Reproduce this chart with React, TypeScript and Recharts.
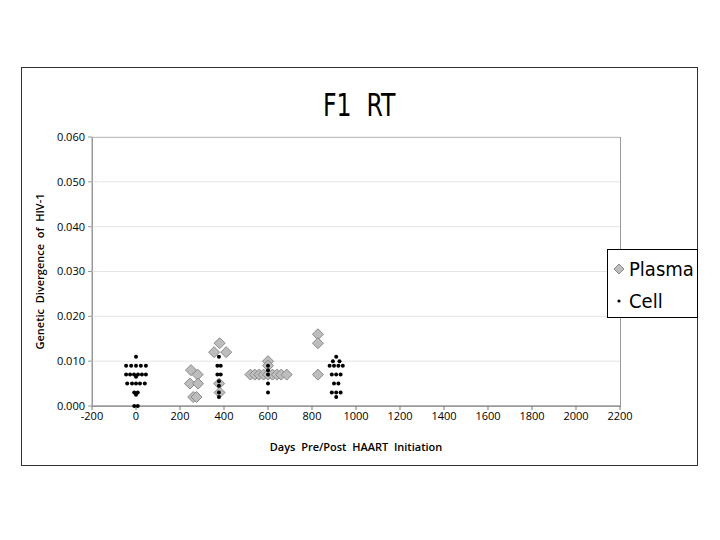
import React from 'react';
import {
  ScatterChart,
  Scatter,
  XAxis,
  YAxis,
  CartesianGrid,
  Label,
} from 'recharts';

// plasma samples (days, divergence)
const plasmaDays = [250, 280, 245, 282, 260, 275, 380, 355, 410, 378, 380, 520, 540, 560, 580, 600, 620, 640, 660, 685, 600, 600, 827, 827, 827];
const plasmaDiv = [0.008, 0.007, 0.005, 0.005, 0.002, 0.002, 0.014, 0.012, 0.012, 0.005, 0.003, 0.007, 0.007, 0.007, 0.007, 0.007, 0.007, 0.007, 0.007, 0.007, 0.010, 0.009, 0.016, 0.014, 0.007];

// cell samples (days, divergence)
const cellDays = [
  0, -45, -22, 0, 22, 45, -45, -27, -9, 9, 27, 45, 0, -40, -18, 0, 18, 40, -8, 8, 0, -8, 8,
  370, 385, 370, 385, 377, 377, 377, 377, 377,
  600, 600, 600, 600, 600,
  910, 895, 925, 880, 900, 920, 940, 890, 910, 930, 900, 920, 890, 910, 930, 910,
];
const cellDiv = [
  0.011, 0.009, 0.009, 0.009, 0.009, 0.009, 0.007, 0.007, 0.007, 0.007, 0.007, 0.007, 0.0065, 0.005, 0.005, 0.005, 0.005, 0.005, 0.003, 0.003, 0.0025, 0.0, 0.0,
  0.009, 0.009, 0.007, 0.007, 0.011, 0.0055, 0.0045, 0.003, 0.002,
  0.009, 0.008, 0.007, 0.005, 0.003,
  0.011, 0.010, 0.010, 0.009, 0.009, 0.009, 0.009, 0.007, 0.007, 0.007, 0.005, 0.005, 0.003, 0.003, 0.003, 0.002,
];

const xTicks = [-200, 0, 200, 400, 600, 800, 1000, 1200, 1400, 1600, 1800, 2000, 2200];
const yTicks = [0, 0.01, 0.02, 0.03, 0.04, 0.05, 0.06];

const plasma = plasmaDays.map((d, i) => ({ x: d, y: plasmaDiv[i] }));
const cell = cellDays.map((d, i) => ({ x: d, y: cellDiv[i] }));

const tickFont = { fontFamily: 'Open Sans, sans-serif', fontSize: 11, fill: '#000' };
const condensed = { fontFamily: 'DejaVu Sans, sans-serif', fontStretch: 'condensed' as const };
const sp = '\u00a0\u00a0';

const Diamond = (props: any) => {
  const { cx, cy } = props;
  const r = 5.5;
  return (
    <polygon
      points={`${cx},${cy - r} ${cx + r},${cy} ${cx},${cy + r} ${cx - r},${cy}`}
      fill="#bdbdbd"
      stroke="#8a8a8a"
      strokeWidth={1}
    />
  );
};

const Dot = (props: any) => {
  const { cx, cy } = props;
  return <circle cx={cx} cy={cy} r={2} fill="#000" />;
};

const LegendBox = () => (
  <div
    style={{
      position: 'absolute',
      left: 607,
      top: 249,
      width: 91,
      height: 69,
      border: '1px solid #000',
      background: '#fff',
      boxSizing: 'border-box',
      ...condensed,
      fontSize: 20,
      color: '#000',
      paddingLeft: 4,
    }}
  >
    <div style={{ display: 'flex', alignItems: 'center', height: 34, marginTop: 2 }}>
      <svg width={14} height={14}>
        <polygon points="7,2 12,7 7,12 2,7" fill="#bdbdbd" stroke="#8a8a8a" />
      </svg>
      <span style={{ marginLeft: 3 }}>Plasma</span>
    </div>
    <div style={{ display: 'flex', alignItems: 'center', height: 30 }}>
      <svg width={14} height={14}>
        <circle cx={7} cy={7} r={1.6} fill="#000" />
      </svg>
      <span style={{ marginLeft: 3 }}>Cell</span>
    </div>
  </div>
);

export default function App() {
  return (
    <div style={{ position: 'absolute', left: 0, top: 0, width: 720, height: 540, background: '#fff' }}>
      {/* outer frame */}
      <div
        style={{
          position: 'absolute',
          left: 21,
          top: 67,
          width: 677,
          height: 399,
          border: '1px solid #333',
          boxSizing: 'border-box',
        }}
      />
      <div
        style={{
          position: 'absolute',
          left: 0,
          top: 86,
          width: 718,
          textAlign: 'center',
          ...condensed,
          fontSize: 32,
          color: '#000',
        }}
      >
        <span style={{ display: 'inline-block', transform: 'scaleX(0.82)' }}>F1{sp}RT</span>
      </div>
      {/* plot border */}
      <div
        style={{
          position: 'absolute',
          left: 92,
          top: 137,
          width: 529,
          height: 270,
          border: '1px solid #999',
          boxSizing: 'border-box',
        }}
      />
      <div style={{ position: 'absolute', left: 0, top: 0 }}>
        <ScatterChart width={720} height={540} margin={{ top: 137, right: 100, bottom: 104, left: 32 }}>
          <CartesianGrid vertical={false} stroke="#e4e4e4" />
          <XAxis
            type="number"
            dataKey="x"
            domain={[-200, 2200]}
            ticks={xTicks}
            interval={0}
            height={30}
            tick={tickFont}
            tickSize={4}
            stroke="#777"
            tickMargin={2}
          >
            <Label
              value={`Days${sp}Pre/Post${sp}HAART${sp}Initiation`}
              position="insideBottom"
              offset={-15}
              style={{ fontFamily: 'Open Sans, sans-serif', fontSize: 11, fontWeight: 600, fill: '#000' }}
            />
          </XAxis>
          <YAxis
            type="number"
            dataKey="y"
            domain={[0, 0.06]}
            ticks={yTicks}
            interval={0}
            width={60}
            tick={tickFont}
            tickFormatter={(v: number) => v.toFixed(3)}
            tickSize={4}
            stroke="#999"
            tickMargin={3}
          >
            <Label
              value={`Genetic${sp}Divergence${sp}of${sp}HIV-1`}
              angle={-90}
              position="insideLeft"
              offset={8}
              style={{ fontFamily: 'Open Sans, sans-serif', fontSize: 11, fontWeight: 600, fill: '#000', textAnchor: 'middle' }}
            />
          </YAxis>
          <Scatter name="Plasma" data={plasma} shape={Diamond} isAnimationActive={false} />
          <Scatter name="Cell" data={cell} shape={Dot} isAnimationActive={false} />
        </ScatterChart>
      </div>
      <LegendBox />
    </div>
  );
}
